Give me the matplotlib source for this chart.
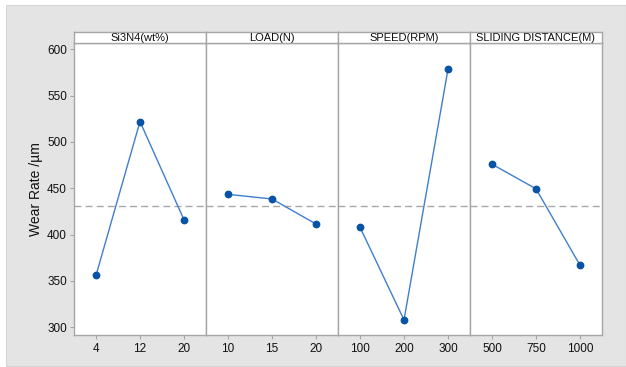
import matplotlib
matplotlib.use("Agg")
import matplotlib.pyplot as plt
from matplotlib.patches import Rectangle

plt.rcParams['font.family'] = ['Liberation Sans Narrow', 'Liberation Sans', 'DejaVu Sans']

# Main effects for wear rate
factors = ["Si3N4(wt%)", "LOAD(N)", "SPEED(RPM)", "SLIDING DISTANCE(M)"]
levels = [["4", "12", "20"], ["10", "15", "20"], ["100", "200", "300"], ["500", "750", "1000"]]
si3n4_means = [356, 522, 416]
load_means = [443.5, 438.5, 411.5]
speed_means = [408, 308, 578.5]
distance_means = [476, 449.5, 367]
overall_mean = 431.3
series = [si3n4_means, load_means, speed_means, distance_means]

W, H = 626, 367
fig = plt.figure(figsize=(W / 100, H / 100), dpi=100)
fig.patch.set_facecolor("white")
fig.patches.append(Rectangle((6 / W, 1 / H), (W - 6) / W, 361 / H,
                             transform=fig.transFigure, facecolor="#e4e4e4",
                             edgecolor="#d4d4d4", linewidth=0.8, zorder=-10))

left, right = 74, 602
bottom, top = 335, 43.3
strip_top = 31.7
panel_w = (right - left) / 4
spine_col = "#a6a6a6"
line_col = "#3f7fcc"
mark_col = "#0753a5"

axes = []
for i in range(4):
    x0 = left + i * panel_w
    ax = fig.add_axes([x0 / W, 1 - bottom / H, panel_w / W, (bottom - top) / H])
    ax.set_facecolor("white")
    xs = [1, 2, 3]
    ax.axhline(overall_mean, color="#a8a8a8", lw=1.0, ls=(0, (5, 3)), zorder=1)
    ax.plot(xs, series[i], color=line_col, lw=1.0, zorder=2)
    ax.plot(xs, series[i], ls="none", marker="o", ms=4.6, color=mark_col, zorder=3)
    ax.set_xlim(0.5, 3.5)
    ax.set_ylim(291.7, 606.5)
    ax.set_xticks(xs)
    ax.set_xticklabels(levels[i], fontsize=8.5, color="#111111")
    ax.set_yticks([300, 350, 400, 450, 500, 550, 600])
    for s in ax.spines.values():
        s.set_color(spine_col)
        s.set_linewidth(1.0)
    ax.tick_params(axis="x", length=3, width=0.8, color=spine_col, pad=3)
    if i == 0:
        ax.tick_params(axis="y", length=3, width=0.8, color=spine_col,
                       labelsize=8.5, labelcolor="#111111", pad=2)
    else:
        ax.tick_params(axis="y", left=False, labelleft=False)
    # factor strip above each panel
    sax = fig.add_axes([x0 / W, 1 - top / H, panel_w / W, (top - strip_top) / H])
    sax.set_facecolor("white")
    sax.set_xticks([])
    sax.set_yticks([])
    for s in sax.spines.values():
        s.set_color(spine_col)
        s.set_linewidth(1.0)
    sax.text(0.5, 0.45, factors[i], ha="center", va="center", fontsize=8,
             color="#111111", transform=sax.transAxes)
    axes.append(ax)

axes[0].set_ylabel("Wear Rate /µm", fontsize=10, color="#111111", labelpad=3)

fig.savefig("out.png", dpi=100)
